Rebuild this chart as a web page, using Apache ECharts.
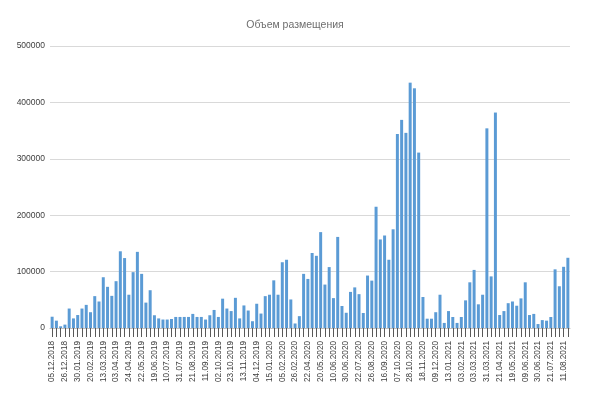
<!DOCTYPE html>
<html>
<head>
<meta charset="utf-8">
<script src="https://cdn.jsdelivr.net/npm/echarts@6/dist/echarts.min.js"></script>
<style>
html,body{margin:0;padding:0;background:#fff;}
#chart{width:590px;height:402px;}
</style>
</head>
<body>
<div id="chart"></div>
<script>
var titleText = 'Объем размещения';

var dates = [
'05.12.2018','12.12.2018','19.12.2018',
'26.12.2018','16.01.2019','23.01.2019',
'30.01.2019','06.02.2019','13.02.2019',
'20.02.2019','27.02.2019','06.03.2019',
'13.03.2019','20.03.2019','27.03.2019',
'03.04.2019','10.04.2019','17.04.2019',
'24.04.2019','08.05.2019','15.05.2019',
'22.05.2019','29.05.2019','05.06.2019',
'19.06.2019','26.06.2019','03.07.2019',
'10.07.2019','17.07.2019','24.07.2019',
'31.07.2019','07.08.2019','14.08.2019',
'21.08.2019','28.08.2019','04.09.2019',
'11.09.2019','18.09.2019','25.09.2019',
'02.10.2019','09.10.2019','16.10.2019',
'23.10.2019','30.10.2019','06.11.2019',
'13.11.2019','20.11.2019','27.11.2019',
'04.12.2019','11.12.2019','18.12.2019',
'15.01.2020','22.01.2020','29.01.2020',
'05.02.2020','12.02.2020','19.02.2020',
'26.02.2020','04.03.2020','11.03.2020',
'22.04.2020','06.05.2020','13.05.2020',
'20.05.2020','27.05.2020','03.06.2020',
'10.06.2020','17.06.2020','23.06.2020',
'30.06.2020','08.07.2020','15.07.2020',
'22.07.2020','12.08.2020','19.08.2020',
'26.08.2020','02.09.2020','09.09.2020',
'16.09.2020','23.09.2020','30.09.2020',
'07.10.2020','14.10.2020','21.10.2020',
'28.10.2020','04.11.2020','11.11.2020',
'18.11.2020','25.11.2020','02.12.2020',
'09.12.2020','16.12.2020','23.12.2020',
'13.01.2021','20.01.2021','27.01.2021',
'03.02.2021','10.02.2021','24.02.2021',
'03.03.2021','17.03.2021','24.03.2021',
'31.03.2021','07.04.2021','14.04.2021',
'21.04.2021','28.04.2021','12.05.2021',
'19.05.2021','26.05.2021','02.06.2021',
'09.06.2021','16.06.2021','23.06.2021',
'30.06.2021','07.07.2021','14.07.2021',
'21.07.2021','28.07.2021','04.08.2021',
'11.08.2021','18.08.2021'
];

var volumes = [
20000, 13000, 3000,
6000, 34500, 17000,
23000, 34500, 41000,
28000, 56500, 47000,
90000, 73000, 57000,
83000, 136000, 124000,
59000, 99000, 135000,
96000, 45000, 67000,
22600, 17000, 15000,
15000, 16000, 19600,
19600, 19600, 19600,
25000, 19600, 19600,
15000, 22600, 32000,
19600, 52000, 34500,
30000, 53500, 17000,
40000, 31000, 12000,
43000, 25600, 56500,
59000, 84500, 59000,
116600, 121000, 50600,
8000, 21000, 96000,
87000, 133000, 128000,
170000, 77000, 108000,
53000, 161500, 39000,
27000, 64000, 72000,
60000, 26600, 93000,
84000, 215000, 157000,
164000, 121000, 175000,
344000, 369000, 346000,
435000, 425000, 311000,
55000, 16500, 16500,
28000, 59000, 9000,
30000, 19500, 9000,
19500, 49000, 81000,
103000, 42000, 59000,
354000, 91500, 382000,
23000, 30000, 44000,
47000, 39500, 52500,
81000, 23000, 25000,
7000, 14000, 13000,
19500, 104000, 74000,
108500, 124500
];

var yMin = 0, yMax = 500000, yStep = 100000;

var chart = echarts.init(document.getElementById('chart'), null, {renderer: 'canvas'});
chart.setOption({
  animation: false,
  backgroundColor: '#ffffff',
  title: {
    text: titleText,
    left: 'center',
    top: 15,
    textStyle: {fontFamily: 'Liberation Sans', fontSize: 10.5, fontWeight: 'normal', color: '#6e6e6e'}
  },
  grid: {left: 50, right: 20, top: 46, bottom: 74, containLabel: false},
  xAxis: {
    type: 'category',
    data: dates,
    axisLine: {lineStyle: {color: '#bfbfbf', width: 1}},
    axisTick: {show: true, interval: 0, alignWithLabel: true, length: 9, lineStyle: {color: '#595959', width: 1}},
    axisLabel: {interval: 2, rotate: 90, margin: 13, fontFamily: 'Liberation Sans', fontSize: 8.2, color: '#404040'}
  },
  yAxis: {
    type: 'value',
    min: yMin, max: yMax, interval: yStep,
    axisLine: {show: false},
    axisTick: {show: false},
    splitLine: {lineStyle: {color: '#d9d9d9', width: 1}},
    axisLabel: {margin: 5, fontFamily: 'Liberation Sans', fontSize: 8.5, color: '#404040',
      formatter: function (v) { return String(v); }}
  },
  series: [{
    type: 'bar',
    data: volumes,
    barCategoryGap: '30%',
    itemStyle: {color: '#5b9bd5'}
  }]
});
</script>
</body>
</html>
